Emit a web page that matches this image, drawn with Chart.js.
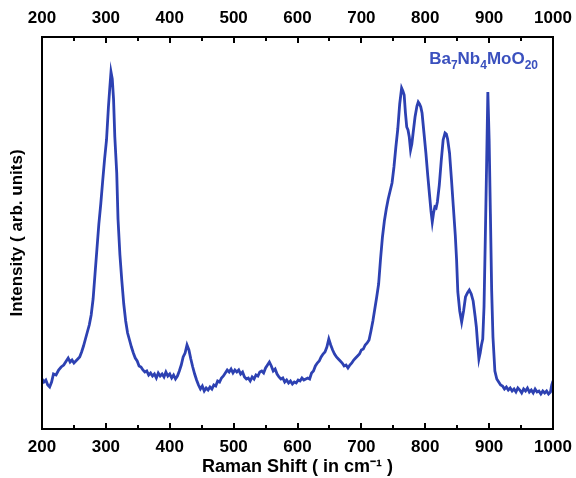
<!DOCTYPE html>
<html lang="en">
<head>
    <meta charset="UTF-8">
    <title>Raman spectrum - Ba7Nb4MoO20</title>
    <script src="https://cdn.jsdelivr.net/npm/chart.js"></script>
    <style>
        html, body { margin: 0; padding: 0; background: #fff; }
        #wrap { width: 576px; height: 478px; }
    </style>
</head>
<body>
    <div id="wrap"><canvas id="ramanChart" width="576" height="478"></canvas></div>

    <script>
        // Raman shift (cm-1) and measured intensity (arb. units)
        const ramanShift = [
            200, 203, 206, 209, 212, 215, 218, 222, 226, 230, 234, 238, 241, 244, 247, 250, 253, 256, 259, 262,
            265, 268, 271, 274, 277, 280, 283, 286, 289, 292, 295, 298, 301, 304, 306, 308, 310, 312, 314, 317,
            319, 322, 325, 328, 331, 334, 337, 340, 343, 346, 349, 352, 355, 358, 361, 364, 367, 370, 373, 376,
            379, 382, 385, 388, 391, 394, 397, 400, 403, 406, 409, 412, 415, 418, 421, 424, 427, 430, 433, 436,
            439, 442, 445, 448, 451, 454, 457, 460, 463, 466, 469, 472, 475, 478, 481, 484, 487, 490, 493, 496,
            499, 502, 505, 508, 511, 514, 517, 520, 523, 526, 529, 532, 535, 538, 541, 544, 547, 550, 553, 556,
            559, 562, 565, 568, 571, 574, 577, 580, 583, 586, 589, 592, 595, 598, 601, 604, 607, 610, 613, 616,
            619, 622, 625, 628, 631, 634, 637, 640, 643, 646, 649, 652, 655, 658, 661, 664, 667, 670, 673, 676,
            679, 682, 685, 688, 691, 694, 697, 700, 703, 706, 709, 712, 715, 718, 721, 724, 727, 730, 733, 736,
            739, 742, 745, 748, 751, 754, 757, 760, 763, 765, 767, 769, 771, 773, 775, 777, 779, 781, 784, 787,
            789, 791, 793, 795, 798, 801, 804, 807, 809, 811, 813, 815, 817, 819, 822, 825, 828, 831, 833, 835,
            838, 841, 844, 847, 849, 851, 854, 857, 860, 863, 866, 869, 872, 875, 878, 880, 882, 884, 886, 888,
            890, 892, 894, 896, 898, 900, 902, 904, 906, 909, 912, 915, 918, 921, 924, 927, 930, 933, 936, 939,
            942, 945, 948, 951, 954, 957, 960, 963, 966, 969, 972, 975, 978, 981, 984, 987, 990, 993, 996, 998,
            1000
        ];
        const intensity = [
            50, 47, 49, 44, 42, 47, 55, 54, 59, 62, 64, 68, 71, 67, 69, 66, 68, 70, 72, 77,
            83, 90, 97, 104, 114, 130, 155, 180, 205, 225, 248, 270, 289, 322, 340, 357, 350, 330, 292, 256,
            210, 174, 148, 125, 108, 96, 89, 82, 76, 71, 68, 63, 62, 59, 57, 58, 54, 56, 53, 55,
            51, 56, 53, 55, 52, 57, 53, 55, 51, 54, 50, 53, 58, 64, 72, 76, 84, 79, 70, 62,
            55, 49, 44, 40, 43, 38, 41, 39, 42, 40, 44, 43, 48, 47, 51, 53, 56, 59, 57, 60,
            56, 59, 57, 59, 55, 57, 52, 50, 51, 48, 52, 50, 54, 53, 57, 58, 56, 61, 64, 67,
            63, 58, 60, 55, 52, 50, 51, 47, 49, 46, 48, 45, 47, 46, 49, 48, 51, 49, 50, 51,
            50, 56, 58, 63, 66, 68, 72, 75, 77, 82, 90, 84, 79, 75, 72, 70, 68, 66, 63, 64,
            61, 64, 66, 69, 71, 73, 75, 79, 80, 84, 86, 89, 98, 108, 120, 132, 145, 170, 192, 208,
            220, 230, 238, 246, 262, 282, 300, 325, 341, 338, 334, 316, 302, 299, 292, 279, 285, 296, 312, 323,
            327, 325, 322, 316, 296, 276, 253, 232, 218, 207, 216, 222, 221, 227, 244, 268, 289, 296, 295, 290,
            276, 250, 222, 194, 170, 137, 118, 107, 118, 132, 136, 139, 135, 128, 113, 102, 85, 70, 76, 84,
            90, 122, 190, 262, 337, 290, 215, 138, 92, 58, 50, 47, 44, 43, 40, 42, 39, 41, 38, 40,
            37, 41, 39, 36, 40, 38, 41, 37, 39, 36, 40, 37, 38, 35, 38, 36, 38, 35, 37, 44,
            48
        ];
        const majorTicks = [200, 300, 400, 500, 600, 700, 800, 900, 1000];
        const minorTicks = [250, 350, 450, 550, 650, 750, 850, 950];

        const lineColor = 'rgb(45, 65, 178)';
        const labelFont = { family: 'Arial, "Liberation Sans", sans-serif', size: 17, weight: 'bold' };

        // inward tick marks on top and bottom, black frame, compound label
        const framePlugin = {
            id: 'frame',
            afterDraw(chart) {
                const { ctx, chartArea: a } = chart;
                const xs = chart.scales.x;
                ctx.save();
                ctx.strokeStyle = '#000';
                ctx.lineWidth = 2;
                const tick = (v, len) => {
                    const px = Math.round(xs.getPixelForValue(v));
                    ctx.beginPath();
                    ctx.moveTo(px, a.bottom);
                    ctx.lineTo(px, a.bottom - len);
                    ctx.moveTo(px, a.top);
                    ctx.lineTo(px, a.top + len);
                    ctx.stroke();
                };
                majorTicks.forEach(v => tick(v, 6));
                minorTicks.forEach(v => tick(v, 4));
                ctx.strokeRect(a.left, a.top, a.right - a.left, a.bottom - a.top);

                // Ba7Nb4MoO20 with subscripts, right aligned
                const parts = [['Ba', 0], ['7', 1], ['Nb', 0], ['4', 1], ['MoO', 0], ['20', 1]];
                const big = 'bold 17px Arial, "Liberation Sans", sans-serif';
                const small = 'bold 12px Arial, "Liberation Sans", sans-serif';
                let w = 0;
                parts.forEach(([t, s]) => { ctx.font = s ? small : big; w += ctx.measureText(t).width; });
                let x = a.right - 15 - w;
                ctx.fillStyle = 'rgb(58, 80, 190)';
                ctx.textBaseline = 'alphabetic';
                parts.forEach(([t, s]) => {
                    ctx.font = s ? small : big;
                    ctx.fillText(t, x, s ? a.top + 32 : a.top + 27);
                    x += ctx.measureText(t).width;
                });
                ctx.restore();
            }
        };

        // fixed box sizes so the plot frame lands at the same place every time
        const fitX = h => s => { s.height = h; s.paddingLeft = 0; s.paddingRight = 0; };

        new Chart(document.getElementById('ramanChart'), {
            type: 'line',
            data: {
                datasets: [{
                    label: 'Ba7Nb4MoO20',
                    data: ramanShift.map((v, i) => ({ x: v, y: intensity[i] })),
                    borderColor: lineColor,
                    borderWidth: 2.8,
                    pointRadius: 0,
                    tension: 0,
                    fill: false
                }]
            },
            options: {
                responsive: false,
                animation: false,
                layout: { padding: { left: 0, right: 23, top: 0, bottom: 0 } },
                plugins: { legend: { display: false }, tooltip: { enabled: false } },
                scales: {
                    x: {
                        type: 'linear',
                        position: 'bottom',
                        min: 200,
                        max: 1000,
                        afterFit: fitX(49),
                        grid: { display: false, drawTicks: false },
                        border: { display: false },
                        ticks: { stepSize: 100, padding: 8, color: '#000', font: labelFont, callback: v => String(v) },
                        title: {
                            display: true,
                            text: 'Raman Shift ( in cm\u207B\u00B9 )',
                            color: '#000',
                            font: { family: labelFont.family, size: 18, weight: 'bold' },
                            padding: { top: 0, bottom: 0 }
                        }
                    },
                    x2: {
                        type: 'linear',
                        position: 'top',
                        min: 200,
                        max: 1000,
                        afterFit: fitX(37),
                        grid: { display: false, drawTicks: false },
                        border: { display: false },
                        ticks: { stepSize: 100, padding: 8, color: '#000', font: labelFont, callback: v => String(v) }
                    },
                    y: {
                        min: 0,
                        max: 392,
                        afterFit: s => { s.width = 42; },
                        grid: { display: false, drawTicks: false },
                        border: { display: false },
                        ticks: { display: false },
                        title: {
                            display: true,
                            text: 'Intensity ( arb. units)',
                            color: '#000',
                            font: { family: labelFont.family, size: 17, weight: 'bold' },
                            padding: { top: 7, bottom: 0 }
                        }
                    }
                }
            },
            plugins: [framePlugin]
        });
    </script>
</body>
</html>
